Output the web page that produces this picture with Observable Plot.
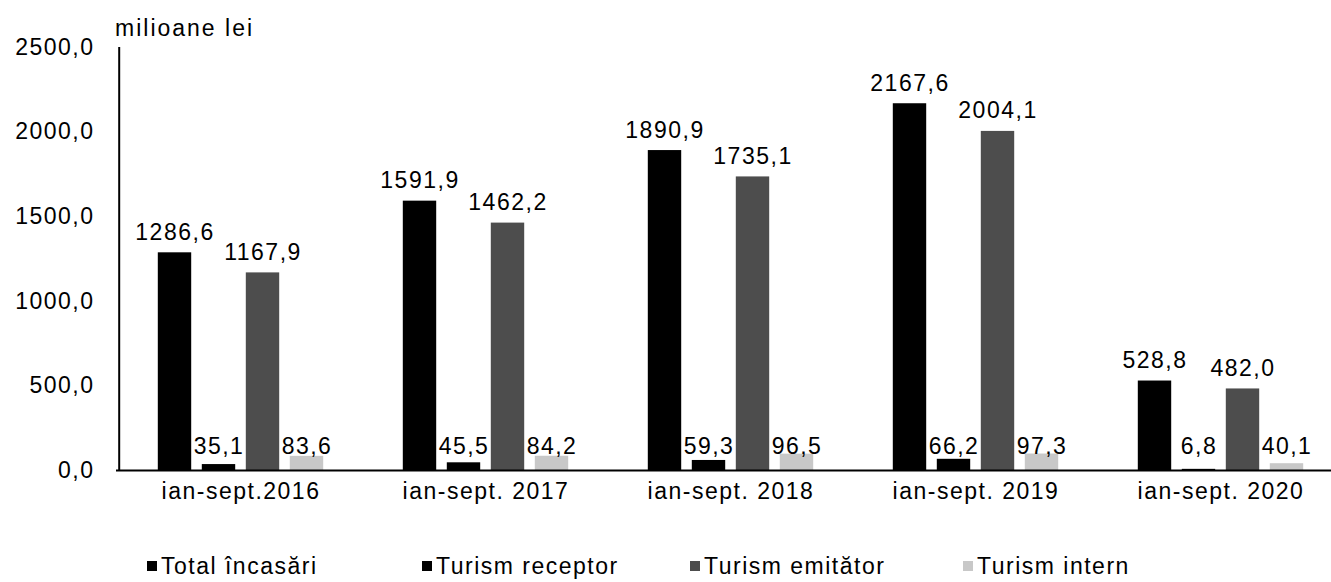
<!DOCTYPE html>
<html>
<head>
<meta charset="utf-8">
<script src="https://cdn.jsdelivr.net/npm/d3@7"></script>
<script src="https://cdn.jsdelivr.net/npm/@observablehq/plot@0.6"></script>
<style>
  html, body { margin: 0; padding: 0; background: #fff; }
  body { font-family: "Liberation Sans", Arial, sans-serif; width: 1331px; height: 582px; position: relative; overflow: hidden; }
  #chart svg text { letter-spacing: 1.5px; }
  #unit { position: absolute; left: 115px; top: 17px; font-size: 23px; line-height: 23px; letter-spacing: 2px; color: #000; }
  .legend { position: relative; height: 62px; font-size: 23px; letter-spacing: 1.5px; color: #000; }
  .legend .item { position: absolute; top: 34px; height: 24px; line-height: 24px; display: flex; align-items: center; white-space: nowrap; }
  .legend .sw { width: 10px; height: 10px; margin-right: 4px; display: inline-block; }
</style>
</head>
<body>
<div id="chart"></div>
<div id="unit">milioane lei</div>
<div class="legend" id="legend"></div>
<script>
// ---- data ----
const categories = ["ian-sept.2016", "ian-sept. 2017", "ian-sept. 2018", "ian-sept. 2019", "ian-sept. 2020"];
const seriesNames = ["Total încasări", "Turism receptor", "Turism emitător", "Turism intern"];
const totalIncasari = [1286.6, 1591.9, 1890.9, 2167.6, 528.8];
const turismReceptor = [35.1, 45.5, 59.3, 66.2, 6.8];
const turismEmitator = [1167.9, 1462.2, 1735.1, 2004.1, 482.0];
const turismIntern = [83.6, 84.2, 96.5, 97.3, 40.1];
const yTicks = [0, 500, 1000, 1500, 2000, 2500];

// ---- styling ----
const colors = ["#000000", "#000000", "#4d4d4d", "#c8c8c8"];
const labelAbove = [true, false, true, false];
const fmt = d => d.toFixed(1).replace(".", ",");

const seriesValues = [totalIncasari, turismReceptor, turismEmitator, turismIntern];
const rows = [];
seriesNames.forEach((s, si) => {
  categories.forEach((c, ci) => rows.push({series: s, si, cat: c, value: seriesValues[si][ci]}));
});

const xRange = [116, 1344];
const bandwidth = (xRange[1] - xRange[0]) / categories.length;
const barWidth = 34;
const barStep = 44;
const inset = (bandwidth - barWidth) / 2;

const marks = [];
seriesNames.forEach((s, si) => {
  const data = rows.filter(r => r.si === si);
  const dx = (si - 1.5) * barStep;
  marks.push(Plot.barY(data, {x: "cat", y: "value", fill: colors[si], dx, insetLeft: inset, insetRight: inset}));
  if (labelAbove[si]) {
    marks.push(Plot.text(data, {x: "cat", y: "value", text: d => fmt(d.value), dx, dy: -13, lineAnchor: "bottom", fill: "#000"}));
  } else {
    marks.push(Plot.text(data, {x: "cat", y: 0, text: d => fmt(d.value), dx, dy: -17, lineAnchor: "bottom", fill: "#000"}));
  }
});
marks.push(Plot.ruleY([0], {stroke: "#000", strokeWidth: 2}));
marks.push(Plot.ruleX([categories[0]], {y1: 0, y2: 2500, dx: -bandwidth / 2 + 1, stroke: "#000", strokeWidth: 2}));

const chart = Plot.plot({
  width: 1331,
  height: 520,
  marginTop: 47,
  marginBottom: 50,
  marginLeft: 116,
  marginRight: 0,
  style: {fontFamily: "'Liberation Sans', Arial, sans-serif", fontSize: "23px", color: "#000", background: "#fff"},
  x: {domain: categories, range: xRange, padding: 0, tickSize: 0, tickPadding: 12, label: null},
  y: {domain: [0, 2500], ticks: yTicks, tickFormat: fmt, tickSize: 0, tickPadding: 22, label: null},
  marks
});
document.getElementById("chart").appendChild(chart);

// ---- legend ----
const legendLefts = [147, 422, 690, 963];
const legend = document.getElementById("legend");
seriesNames.forEach((s, si) => {
  const item = document.createElement("div");
  item.className = "item";
  item.style.left = legendLefts[si] + "px";
  const sw = document.createElement("span");
  sw.className = "sw";
  sw.style.background = colors[si];
  item.appendChild(sw);
  item.appendChild(document.createTextNode(s));
  legend.appendChild(item);
});
</script>
</body>
</html>
